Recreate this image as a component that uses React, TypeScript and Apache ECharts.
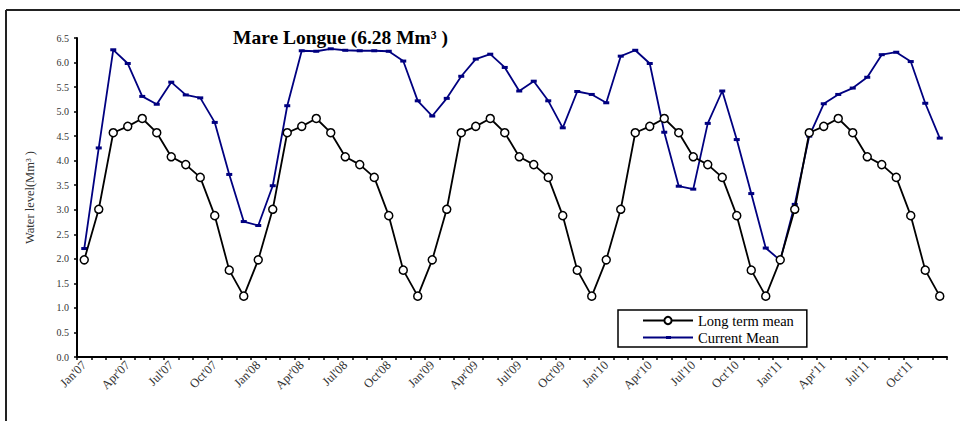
import React, { useEffect, useRef } from "react";
import * as echarts from "echarts";

const monthNames = ["Jan", "Feb", "Mar", "Apr", "May", "Jun", "Jul", "Aug", "Sep", "Oct", "Nov", "Dec"];
const years = ["07", "08", "09", "10", "11"];
const categories = years.flatMap((y) => monthNames.map((m) => `${m}'${y}`));

const longTermMean = [
  1.98, 3.01, 4.57, 4.70, 4.86, 4.57, 4.08, 3.92, 3.66, 2.88, 1.77, 1.24,
  1.98, 3.01, 4.57, 4.70, 4.86, 4.57, 4.08, 3.92, 3.66, 2.88, 1.77, 1.24,
  1.98, 3.01, 4.57, 4.70, 4.86, 4.57, 4.08, 3.92, 3.66, 2.88, 1.77, 1.24,
  1.98, 3.01, 4.57, 4.70, 4.86, 4.57, 4.08, 3.92, 3.66, 2.88, 1.77, 1.24,
  1.98, 3.01, 4.57, 4.70, 4.86, 4.57, 4.08, 3.92, 3.66, 2.88, 1.77, 1.24,
];

const currentMean = [
  2.21, 4.26, 6.26, 5.98, 5.31, 5.15, 5.60, 5.34, 5.28, 4.78, 3.72, 2.76,
  2.68, 3.49, 5.12, 6.24, 6.23, 6.28, 6.25, 6.24, 6.24, 6.23, 6.03, 5.22,
  4.91, 5.27, 5.72, 6.07, 6.17, 5.90, 5.42, 5.62, 5.22, 4.67, 5.41, 5.35,
  5.18, 6.13, 6.25, 5.98, 4.58, 3.48, 3.42, 4.76, 5.42, 4.43, 3.33, 2.22,
  1.97, 3.11, 4.50, 5.16, 5.35, 5.48, 5.70, 6.16, 6.21, 6.02, 5.17, 4.46,
];

const FONT = "'Liberation Serif', 'Times New Roman', serif";
const CURRENT_ICON = "path://M0,0.6 L50,0.6 L50,2.4 L0,2.4 Z M23,0 L28,0 L28,3 L23,3 Z";

export default function App() {
  const ref = useRef<HTMLDivElement>(null);
  useEffect(() => {
    if (!ref.current) return;
    const chart = echarts.init(ref.current, null, { renderer: "svg" });
    chart.setOption({
      animation: false,
      backgroundColor: "#ffffff",
      textStyle: { fontFamily: FONT },
      title: {
        text: "Mare Longue (6.28 Mm³ )",
        left: 233,
        top: 27,
        padding: 0,
        textStyle: { fontFamily: FONT, fontSize: 19.5, fontWeight: "bold", color: "#000" },
      },
      grid: { left: 77, right: 13, top: 38, bottom: 64, containLabel: false },
      legend: {
        orient: "vertical",
        left: 618,
        top: 310,
        padding: [3, 13, 2, 24],
        itemGap: 2,
        itemWidth: 50,
        itemHeight: 9,
        borderColor: "#000",
        borderWidth: 1.5,
        textStyle: { fontFamily: FONT, fontSize: 14.5, color: "#000" },
        data: [
          { name: "Long term mean" },
          { name: "Current Mean", icon: CURRENT_ICON },
        ],
      },
      xAxis: {
        type: "category",
        data: categories,
        boundaryGap: true,
        axisLine: { show: true, onZero: false, lineStyle: { color: "#000", width: 2 } },
        axisTick: { show: true, interval: 0, length: 3, lineStyle: { color: "#000", width: 1.5 } },
        splitLine: { show: false },
        axisLabel: {
          interval: 2,
          rotate: 45,
          fontFamily: FONT,
          fontSize: 12.5,
          color: "#333",
          margin: 6,
        },
      },
      yAxis: {
        type: "value",
        min: 0,
        max: 6.5,
        interval: 0.5,
        name: "Water level(Mm³ )",
        nameLocation: "middle",
        nameGap: 41,
        nameRotate: 90,
        nameTextStyle: { fontFamily: FONT, fontSize: 12.5, color: "#333" },
        axisLine: { show: true, lineStyle: { color: "#000", width: 2 } },
        axisTick: { show: true, length: 3, lineStyle: { color: "#000", width: 1.5 } },
        splitLine: { show: false },
        axisLabel: {
          fontFamily: FONT,
          fontSize: 10,
          color: "#333",
          margin: 8,
          formatter: (v: number) => v.toFixed(1),
        },
      },
      series: [
        {
          name: "Long term mean",
          type: "line",
          data: longTermMean,
          symbol: "circle",
          symbolSize: 8,
          z: 3,
          lineStyle: { color: "#000", width: 1.8 },
          itemStyle: { color: "#fff", borderColor: "#000", borderWidth: 1.5 },
        },
        {
          name: "Current Mean",
          type: "line",
          data: currentMean,
          symbol: "rect",
          symbolSize: [6, 3],
          z: 2,
          lineStyle: { color: "#000080", width: 1.8 },
          itemStyle: { color: "#000080", borderWidth: 0 },
        },
      ],
      graphic: [
        { type: "line", shape: { x1: 6, y1: 10, x2: 960, y2: 10 }, style: { stroke: "#222", lineWidth: 2 } },
        { type: "line", shape: { x1: 6, y1: 10, x2: 6, y2: 421 }, style: { stroke: "#222", lineWidth: 2 } },
      ],
    });
    return () => chart.dispose();
  }, []);
  return <div ref={ref} style={{ position: "absolute", left: 0, top: 0, width: 960, height: 421 }} />;
}
